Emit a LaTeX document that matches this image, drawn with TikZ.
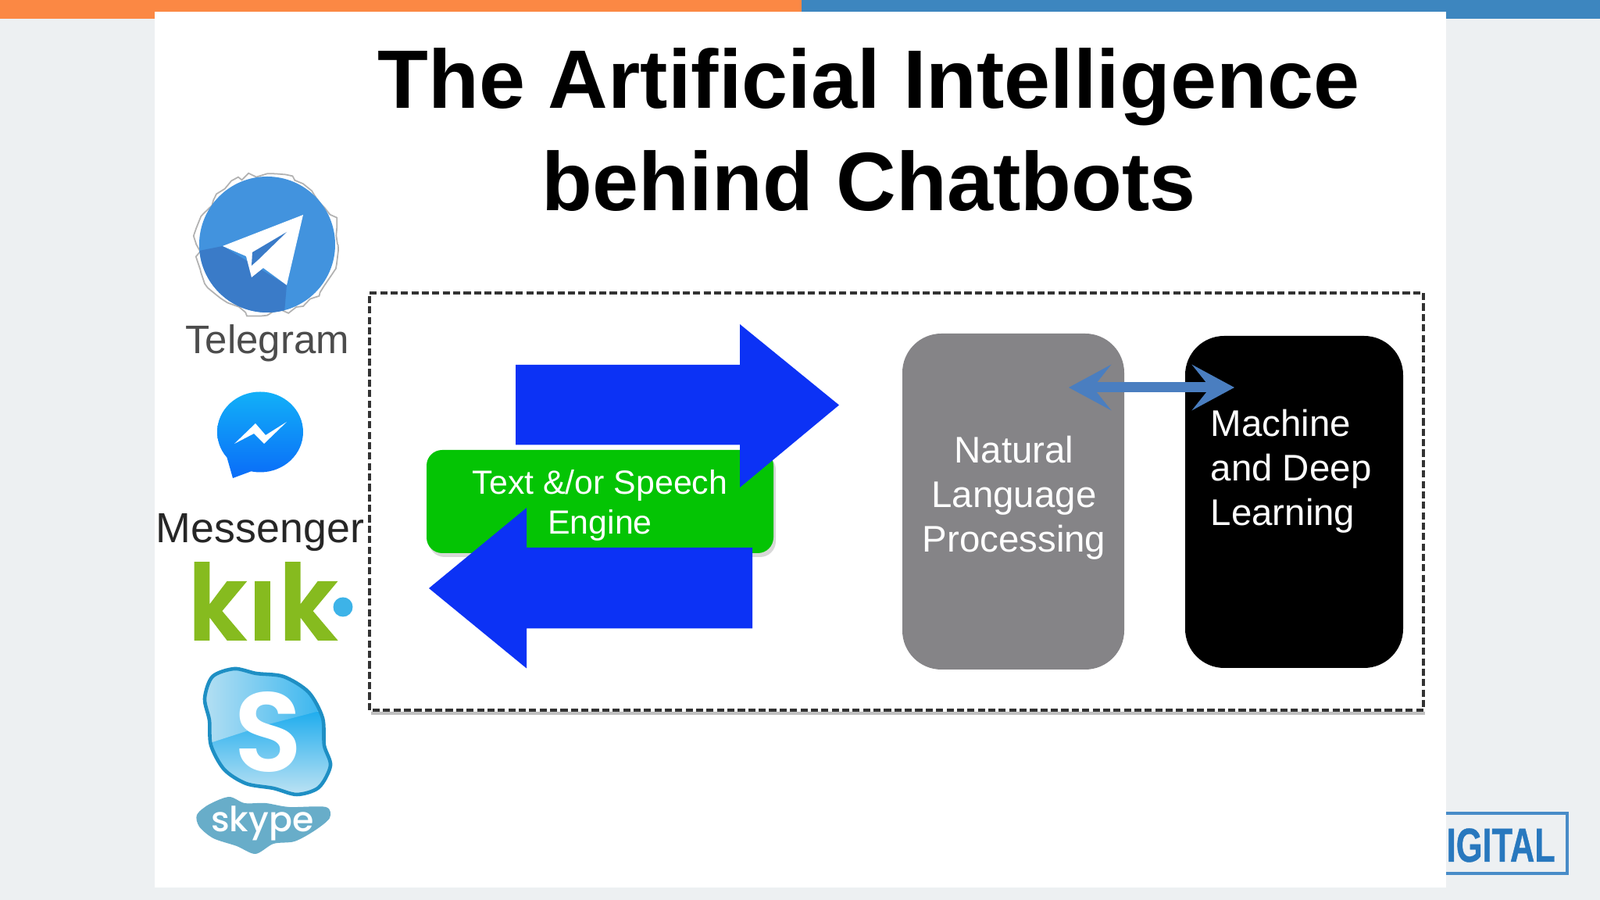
\documentclass[tikz,border=0pt]{standalone}
\usepackage{fontspec}
\setmainfont{Liberation Sans}
\newfontfamily\kikfont[FakeBold=1.5,FakeStretch=0.95,LetterSpace=2]{Poppins SemiBold}
\newfontfamily\slogofont{Poppins SemiBold}
\newfontfamily\skypefont{Poppins Medium}
\newfontfamily\digitalfont[FakeStretch=0.71,FakeBold=0.6]{Liberation Sans Bold}
\usepackage{xcolor}
\usetikzlibrary{arrows.meta,calc,positioning,decorations.pathmorphing,shadows}
\definecolor{pagebg}{HTML}{EDF0F2}
\definecolor{barorange}{HTML}{FB8844}
\definecolor{barblue}{HTML}{3D86BF}
\definecolor{digitblue}{HTML}{2878BE}
\definecolor{tgblue}{HTML}{4293DE}
\definecolor{tgdark}{HTML}{3A7BC8}
\definecolor{msgtop}{HTML}{12B0F8}
\definecolor{msgbottom}{HTML}{0A6CF8}
\definecolor{fastblue}{HTML}{0C32F5}
\definecolor{enginegreen}{HTML}{04C404}
\definecolor{nlpgray}{HTML}{858487}
\definecolor{linkblue}{HTML}{4A7EC0}
\definecolor{kikgreen}{HTML}{86BB1F}
\definecolor{kikdot}{HTML}{3DB3E8}
\definecolor{skypeedge}{HTML}{1E8FC4}
\definecolor{skypemid}{HTML}{22AEEE}
\definecolor{skypepale}{HTML}{BDE2F3}
\definecolor{cloudblue}{HTML}{68ADC9}
\newcommand{\skypeblob}{plot[smooth cycle] coordinates {(2.62,2.58) (2.72,2.86) (3.00,2.96) (3.28,2.90) (3.63,2.86) (3.95,2.66) (4.13,2.33) (4.15,1.98) (4.23,1.72) (4.08,1.44) (3.80,1.35) (3.50,1.43) (3.15,1.49) (2.87,1.67) (2.70,1.98) (2.68,2.30)}}
\tikzset{
  blockarrow/.style={fill=fastblue,draw=none},
  dashbox/.style={line width=1.3pt,draw=black!80,dash pattern=on 2.6pt off 1.2pt},
  enginebox/.style={fill=enginegreen,rounded corners=2mm,minimum width=4.44cm,minimum height=1.32cm,drop shadow={opacity=0.3,shadow xshift=0.3mm,shadow yshift=-0.5mm}},
  nlpbox/.style={fill=nlpgray,rounded corners=5mm,minimum width=2.84cm,minimum height=4.30cm},
  mlbox/.style={fill=black,rounded corners=5mm,minimum width=2.79cm,minimum height=4.25cm},
  boxtext/.style={text=white,align=center,font=\fontsize{13.5}{16.2}\selectfont},
  biarrow/.style={{Stealth[length=5.4mm,width=5.8mm,inset=2.3mm]}-{Stealth[length=5.4mm,width=5.8mm,inset=2.3mm]},line width=3.7pt,draw=linkblue}
}
\begin{document}
\begin{tikzpicture}[x=1cm,y=1cm,every node/.style={font=\small}]
  \useasboundingbox (0,0) rectangle (20.48,11.52);
  \fill[pagebg] (0,0) rectangle (20.48,11.52);
  \fill[barorange] (0,11.28) rectangle (10.26,11.52);
  \fill[barblue] (10.26,11.28) rectangle (20.48,11.52);
  \draw[digitblue!85,line width=1.2pt] (18,1.11) -- (20.06,1.11) -- (20.06,0.34) -- (18,0.34);
  \node[anchor=base west,inner sep=0pt,text=digitblue,font=\digitalfont\fontsize{17.4}{20}\selectfont\bfseries] (digitaltext) at (18.51,0.49) {IGITAL};
  \fill[white] (1.98,0.16) rectangle (18.51,11.37);
  \node[align=center,font=\fontsize{30.2}{37.3}\selectfont\bfseries] (titletext) at (11.12,9.86) {The Artificial Intelligence\\behind Chatbots};
  \draw[black!25,line width=1.3pt] (4.75,2.39) -- (18.24,2.39);
  \draw[dashbox] (4.73,2.43) rectangle (18.22,7.77);
  \node[enginebox] (enginerect) at (7.68,5.10) {};
  \fill[blockarrow] (6.60,6.85) -- (9.47,6.85) -- (9.47,7.37) -- (10.74,6.335) -- (9.47,5.28) -- (9.47,5.825) -- (6.60,5.825) -- cycle;
  \fill[blockarrow] (9.63,4.51) -- (6.74,4.51) -- (6.74,5.02) -- (5.49,3.99) -- (6.74,2.965) -- (6.74,3.475) -- (9.63,3.475) -- cycle;
  \node[boxtext,font=\fontsize{12.2}{14.5}\selectfont] (enginetext) at (7.68,5.05) {Text \&/or Speech\\Engine};
  \node[nlpbox] (nlprect) at (12.97,5.10) {};
  \node[mlbox] (mlrect) at (16.565,5.095) {};
  \node[boxtext] (nlptext) at (12.98,5.15) {Natural\\Language\\Processing};
  \node[boxtext,align=left,anchor=west,inner sep=0pt] (mltext) at (15.49,5.49) {Machine\\and Deep\\Learning};
  \coordinate (nlpend) at (13.68,6.56);
  \coordinate (mlend) at (15.80,6.56);
  \draw[biarrow] (nlpend) -- (mlend);
  % telegram
  \draw[gray!60,line width=0.5pt,decorate,decoration={random steps,segment length=1mm,amplitude=0.5mm}] (3.42,8.39) circle (0.90);
  \fill[tgblue] (3.42,8.39) circle (0.87);
  \begin{scope}
    \clip (3.42,8.39) circle (0.87);
    \fill[tgdark] (2.40,8.28) -- (2.85,8.37) -- (3.67,7.87) -- (3.63,7.40) -- (2.40,7.40) -- cycle;
  \end{scope}
  \fill[white] (3.88,8.77) -- (2.85,8.37) -- (3.15,8.24) -- (3.22,7.97) -- (3.37,8.09) -- (3.67,7.87) -- cycle;
  \fill[tgdark] (3.67,8.55) -- (3.23,8.29) -- (3.22,8.12) -- (3.30,8.19) -- cycle;
  \node[anchor=base,text=black!70,font=\fontsize{14.5}{16}\selectfont] (telegramtext) at (3.42,6.99) {Telegram};
  % messenger
  \shade[top color=msgtop,bottom color=msgbottom] (3.33,5.99) ellipse [x radius=0.55,y radius=0.515] (2.90,5.68) -- (2.98,5.40) -- (3.25,5.50) -- cycle;
  \fill[white] (3.00,5.84) -- (3.27,6.10) -- (3.40,5.95) -- (3.67,6.12) -- (3.38,5.84) -- (3.25,5.97) -- cycle;
  \node[anchor=base,text=black!85,font=\fontsize{15.3}{18}\selectfont] (messengertext) at (3.33,4.57) {Messenger};
  % kik
  \node[anchor=base,text=kikgreen,inner sep=0pt,font=\kikfont\fontsize{38}{40}\selectfont] (kiktext) at (3.36,3.33) {kık};
  \fill[kikdot] (4.39,3.75) circle (0.125);
  % skype
  \begin{scope}
    \clip \skypeblob;
    \shade[top color=skypemid,bottom color=skypepale] (2.5,2.40) rectangle (4.4,1.35);
    \shade[left color=skypepale,right color=skypemid] (2.5,3.0) -- (4.4,3.0) -- (4.4,2.50) -- (3.40,2.24) -- (2.5,1.95) -- cycle;
  \end{scope}
  \draw[skypeedge,line width=1.3pt] \skypeblob;
  \node[text=white,inner sep=0pt,font=\slogofont\fontsize{41}{44}\selectfont] (skypelogo) at (3.43,2.15) {S};
  \fill[cloudblue] plot[smooth cycle] coordinates {(2.52,1.09) (2.67,1.22) (2.93,1.32) (3.13,1.24) (3.40,1.24) (3.70,1.19) (4.17,1.19) (4.22,1.05) (4.03,0.89) (3.77,0.75) (3.50,0.72) (3.27,0.59) (3.03,0.69) (2.73,0.79) (2.55,0.94)};
  \node[anchor=base,text=white,inner sep=0pt,font=\skypefont\fontsize{12.6}{16}\selectfont] (skypetext) at (3.36,0.87) {skype};
\end{tikzpicture}
\end{document}
